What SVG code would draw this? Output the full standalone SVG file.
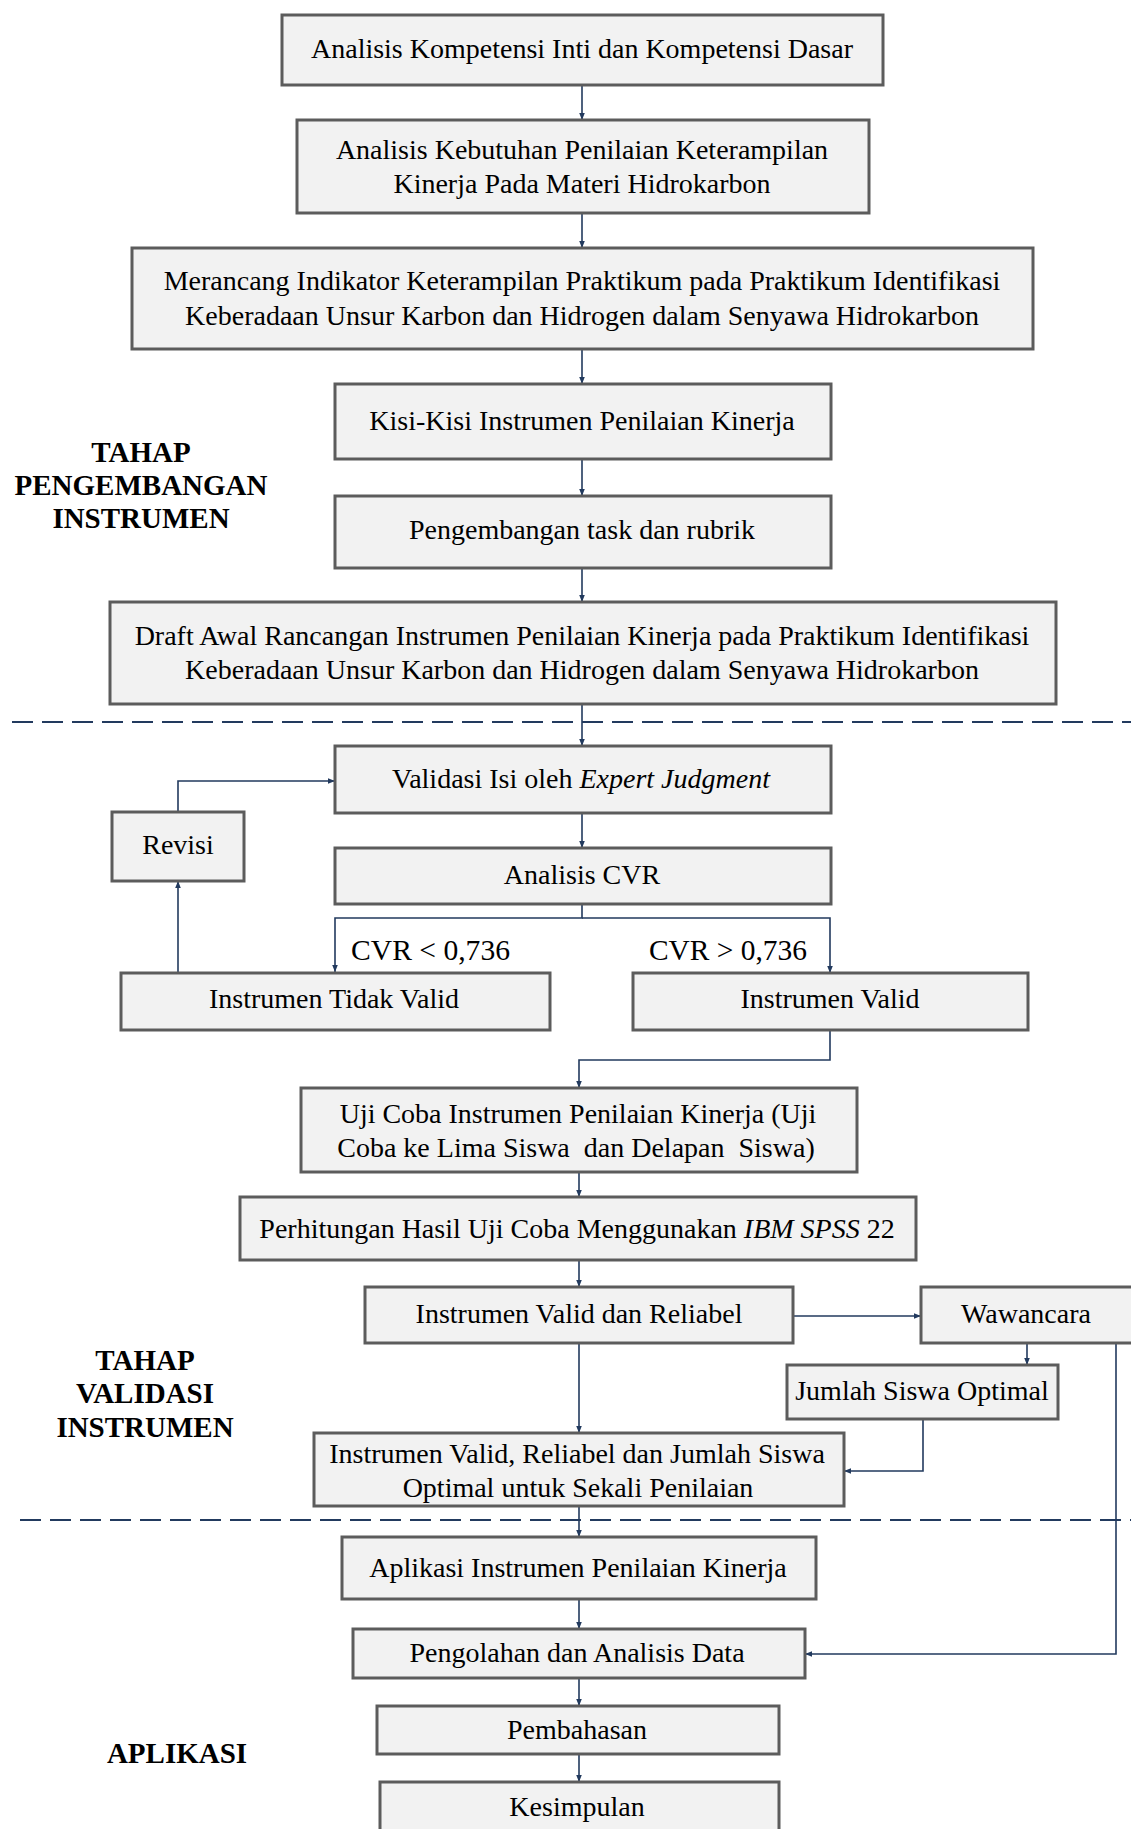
<svg xmlns="http://www.w3.org/2000/svg" width="1131" height="1829" viewBox="0 0 1131 1829">
<defs>
<style>
.box{fill:#F2F2F2;stroke:#5C5C5C;stroke-width:3}
.t{font-family:"Liberation Serif","Times New Roman",serif;font-size:28px;fill:#000;text-anchor:middle}
.lbl{font-family:"Liberation Serif","Times New Roman",serif;font-size:29px;fill:#000}
.st{font-family:"Liberation Serif","Times New Roman",serif;font-size:29px;font-weight:bold;fill:#000;text-anchor:middle}
.c{fill:none;stroke:#223A5E;stroke-width:1.6}
.d{fill:none;stroke:#223A5E;stroke-width:2;stroke-dasharray:21 9}
.i{font-style:italic}
</style>
<marker id="ah" viewBox="0 0 10 10" refX="10" refY="5" markerWidth="7" markerHeight="7" markerUnits="userSpaceOnUse" orient="auto">
<path d="M0,1 L10,5 L0,9 z" fill="#223A5E"/>
</marker>
</defs>
<rect width="1131" height="1829" fill="#fff"/>

<g id="stage-labels">
<text class="st" x="141" y="462">TAHAP</text>
<text class="st" x="141" y="495">PENGEMBANGAN</text>
<text class="st" x="141" y="528">INSTRUMEN</text>
<text class="st" x="145" y="1370">TAHAP</text>
<text class="st" x="145" y="1403">VALIDASI</text>
<text class="st" x="145" y="1437">INSTRUMEN</text>
<text class="st" x="177" y="1763">APLIKASI</text>
</g>

<g id="dividers">
<line class="d" x1="12" y1="722" x2="1131" y2="722"/>
<line class="d" x1="20" y1="1520" x2="1131" y2="1520"/>
</g>

<g id="connectors">
<path class="c" marker-end="url(#ah)" d="M582,86 V120"/>
<path class="c" marker-end="url(#ah)" d="M582,214 V248"/>
<path class="c" marker-end="url(#ah)" d="M582,350 V384"/>
<path class="c" marker-end="url(#ah)" d="M582,460 V496"/>
<path class="c" marker-end="url(#ah)" d="M582,569 V602"/>
<path class="c" marker-end="url(#ah)" d="M582,705 V746"/>
<path class="c" marker-end="url(#ah)" d="M582,814 V848"/>
<path class="c" marker-end="url(#ah)" d="M582,905 V918 H335 V972"/>
<path class="c" marker-end="url(#ah)" d="M582,918 H830 V973"/>
<path class="c" marker-end="url(#ah)" d="M178,972 V881"/>
<path class="c" marker-end="url(#ah)" d="M178,812 V781 H335"/>
<path class="c" marker-end="url(#ah)" d="M830,1031 V1060 H579 V1088"/>
<path class="c" marker-end="url(#ah)" d="M579,1173 V1197"/>
<path class="c" marker-end="url(#ah)" d="M579,1261 V1287"/>
<path class="c" marker-end="url(#ah)" d="M579,1344 V1433"/>
<path class="c" marker-end="url(#ah)" d="M794,1316 H921"/>
<path class="c" marker-end="url(#ah)" d="M1027,1344 V1365"/>
<path class="c" marker-end="url(#ah)" d="M923,1420 V1471 H844"/>
<path class="c" marker-end="url(#ah)" d="M579,1507 V1537"/>
<path class="c" marker-end="url(#ah)" d="M579,1600 V1629"/>
<path class="c" marker-end="url(#ah)" d="M1116,1341 V1654 H805"/>
<path class="c" marker-end="url(#ah)" d="M579,1679 V1706"/>
<path class="c" marker-end="url(#ah)" d="M579,1755 V1782"/>
</g>

<g id="n1"><rect class="box" x="282" y="15" width="601" height="70"/>
<text class="t" x="582" y="58">Analisis Kompetensi Inti dan Kompetensi Dasar</text></g>

<g id="n2"><rect class="box" x="297" y="120" width="572" height="93"/>
<text class="t" x="582" y="159">Analisis Kebutuhan Penilaian Keterampilan</text>
<text class="t" x="582" y="193">Kinerja Pada Materi Hidrokarbon</text></g>

<g id="n3"><rect class="box" x="132" y="248" width="901" height="101"/>
<text class="t" x="582" y="290">Merancang Indikator Keterampilan Praktikum pada Praktikum Identifikasi</text>
<text class="t" x="582" y="325">Keberadaan Unsur Karbon dan Hidrogen dalam Senyawa Hidrokarbon</text></g>

<g id="n4"><rect class="box" x="335" y="384" width="496" height="75"/>
<text class="t" x="582" y="430">Kisi-Kisi Instrumen Penilaian Kinerja</text></g>

<g id="n5"><rect class="box" x="335" y="496" width="496" height="72"/>
<text class="t" x="582" y="539">Pengembangan task dan rubrik</text></g>

<g id="n6"><rect class="box" x="110" y="602" width="946" height="102"/>
<text class="t" x="582" y="645">Draft Awal Rancangan Instrumen Penilaian Kinerja pada Praktikum Identifikasi</text>
<text class="t" x="582" y="679">Keberadaan Unsur Karbon dan Hidrogen dalam Senyawa Hidrokarbon</text></g>

<g id="n7"><rect class="box" x="335" y="746" width="496" height="67"/>
<text class="t" x="581" y="788">Validasi Isi oleh <tspan class="i">Expert Judgment</tspan></text></g>

<g id="n-revisi"><rect class="box" x="112" y="812" width="132" height="69"/>
<text class="t" x="178" y="854">Revisi</text></g>

<g id="n8"><rect class="box" x="335" y="848" width="496" height="56"/>
<text class="t" x="582" y="884">Analisis CVR</text></g>

<g id="cvr-labels">
<text class="lbl" x="351" y="960" textLength="159" lengthAdjust="spacingAndGlyphs">CVR &lt; 0,736</text>
<text class="lbl" x="649" y="960" textLength="158" lengthAdjust="spacingAndGlyphs">CVR &gt; 0,736</text>
</g>

<g id="n-tidak-valid"><rect class="box" x="121" y="973" width="429" height="57"/>
<text class="t" x="334" y="1008">Instrumen Tidak Valid</text></g>

<g id="n-valid"><rect class="box" x="633" y="973" width="395" height="57"/>
<text class="t" x="830" y="1008">Instrumen Valid</text></g>

<g id="n-ujicoba"><rect class="box" x="301" y="1088" width="556" height="84"/>
<text class="t" x="578" y="1123">Uji Coba Instrumen Penilaian Kinerja (Uji</text>
<text class="t" x="576" y="1157" xml:space="preserve">Coba ke Lima Siswa  dan Delapan  Siswa)</text></g>

<g id="n-perhitungan"><rect class="box" x="240" y="1197" width="676" height="63"/>
<text class="t" x="577" y="1238">Perhitungan Hasil Uji Coba Menggunakan <tspan class="i">IBM SPSS</tspan> 22</text></g>

<g id="n-valid-reliabel"><rect class="box" x="365" y="1287" width="428" height="56"/>
<text class="t" x="579" y="1323">Instrumen Valid dan Reliabel</text></g>

<g id="n-wawancara"><rect class="box" x="921" y="1287" width="212" height="56"/>
<text class="t" x="1026" y="1323">Wawancara</text></g>

<g id="n-jumlah"><rect class="box" x="787" y="1365" width="271" height="54"/>
<text class="t" x="922" y="1400">Jumlah Siswa Optimal</text></g>

<g id="n-final"><rect class="box" x="314" y="1433" width="530" height="73"/>
<text class="t" x="577" y="1463">Instrumen Valid, Reliabel dan Jumlah Siswa</text>
<text class="t" x="578" y="1497">Optimal untuk Sekali Penilaian</text></g>

<g id="n-aplikasi"><rect class="box" x="342" y="1537" width="474" height="62"/>
<text class="t" x="578" y="1577">Aplikasi Instrumen Penilaian Kinerja</text></g>

<g id="n-pengolahan"><rect class="box" x="353" y="1629" width="452" height="49"/>
<text class="t" x="577" y="1662">Pengolahan dan Analisis Data</text></g>

<g id="n-pembahasan"><rect class="box" x="377" y="1706" width="402" height="48"/>
<text class="t" x="577" y="1739">Pembahasan</text></g>

<g id="n-kesimpulan"><rect class="box" x="380" y="1782" width="399" height="60"/>
<text class="t" x="577" y="1816">Kesimpulan</text></g>
</svg>
